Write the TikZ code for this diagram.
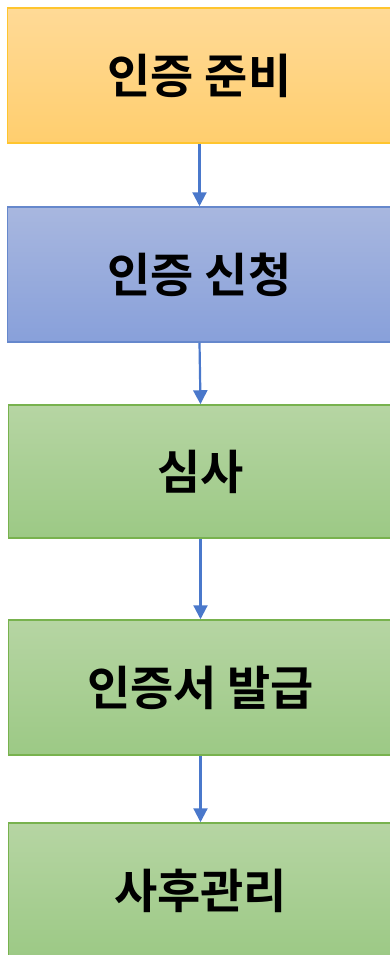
\documentclass[tikz,border=0pt]{standalone}
\usepackage{fontspec}
\newfontfamily\kr{Noto Sans CJK KR}[BoldFont={Noto Sans CJK KR Bold}]
\usetikzlibrary{arrows.meta}
\definecolor{orTop}{HTML}{FFDA97}
\definecolor{orBot}{HTML}{FFCE6E}
\definecolor{orLine}{HTML}{FFC52E}
\definecolor{blTop}{HTML}{A8B7DF}
\definecolor{blBot}{HTML}{88A0DA}
\definecolor{blLine}{HTML}{6688CC}
\definecolor{grTop}{HTML}{B6D5A3}
\definecolor{grBot}{HTML}{9CC985}
\definecolor{grLine}{HTML}{78B24E}
\definecolor{arr}{HTML}{4A78CB}
\newcommand\boxlabel[1]{\raisebox{-3pt}{#1}}
\tikzset{
  x=1pt, y=-1pt,
  stepbox/.style={rectangle, minimum width=384pt, minimum height=135pt, inner sep=0pt,
    line width=1.5pt, font=\kr\bfseries\fontsize{47}{52}\selectfont, text=black},
  orbox/.style={stepbox, draw=orLine, top color=orTop, bottom color=orBot},
  blbox/.style={stepbox, draw=blLine, top color=blTop, bottom color=blBot},
  grbox/.style={stepbox, draw=grLine, top color=grTop, bottom color=grBot},
  flow/.style={draw=arr, line width=2.2pt, -{Triangle[width=14pt,length=14pt]}}
}
\begin{document}
\begin{tikzpicture}
\useasboundingbox (0,0) rectangle (389,955);
\node[orbox] (b1) at (199.5,75.5) {\boxlabel{인증 준비}};
\node[blbox] (b2) at (199.5,274.5) {\boxlabel{인증 신청}};
\node[grbox, minimum height=133pt] (b3) at (200.5,471.5) {\boxlabel{심사}};
\node[grbox] (b4) at (200.5,687.5) {\boxlabel{인증서 발급}};
\node[grbox] (b5) at (200.5,890.5) {\boxlabel{사후관리}};
\draw[flow] (b1.south) -- (b2.north);
\draw[flow] (b2.south) -- (b3.north);
\draw[flow] (b3.south) -- (b4.north);
\draw[flow] (b4.south) -- (b5.north);
\end{tikzpicture}
\end{document}
